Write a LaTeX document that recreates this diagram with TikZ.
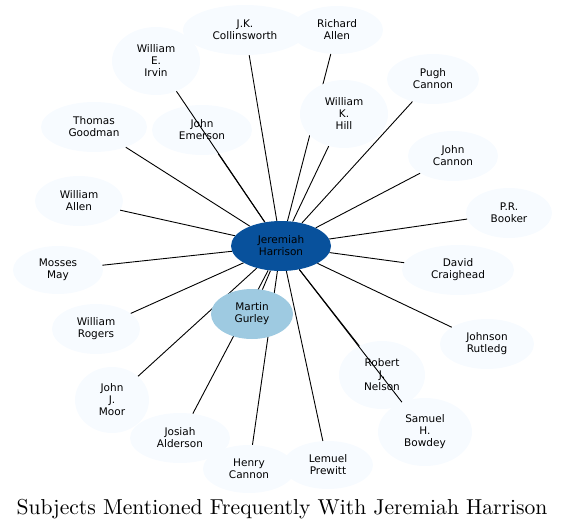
\documentclass[tikz,border=0pt]{standalone}
\usepackage{fontspec}
\newfontfamily\nodefont{DejaVu Sans}
\newfontfamily\titlefont{lmroman10-regular.otf}
\usetikzlibrary{shapes.geometric}
\pgfdeclarelayer{bg}
\pgfdeclarelayer{edgelayer}
\pgfsetlayers{bg,edgelayer,main}
\definecolor{lightnode}{HTML}{F7FBFF}
\definecolor{centernode}{HTML}{08519C}
\definecolor{midnode}{HTML}{9ECAE1}
\tikzset{
  person/.style={ellipse, draw=none, fill=lightnode, inner sep=0pt, align=center,
    font=\nodefont\fontsize{10.5}{12}\selectfont, text=black},
  link/.style={draw=black, line width=0.9pt},
}
\begin{document}
\begin{tikzpicture}[x=1pt,y=-1pt]
\useasboundingbox (0,0) rectangle (565,530);
\begin{pgfonlayer}{bg}
\node[person, minimum width=124pt, minimum height=50pt] (jk) at (245,30) {J.K.\\Collinsworth};
\node[person, minimum width=92pt, minimum height=48pt] (ra) at (337,30) {Richard\\Allen};
\node[person, minimum width=88pt, minimum height=68pt] (wei) at (156,61) {William\\E.\\Irvin};
\node[person, minimum width=106pt, minimum height=50pt] (tg) at (94,127) {Thomas\\Goodman};
\node[person, minimum width=100pt, minimum height=50pt] (je) at (202,130) {John\\Emerson};
\node[person, minimum width=88pt, minimum height=50pt] (wa) at (79,201) {William\\Allen};
\node[person, minimum width=90pt, minimum height=48pt] (mm) at (58,270) {Mosses\\May};
\node[person, minimum width=88pt, minimum height=50pt] (wr) at (96,329) {William\\Rogers};
\node[person, minimum width=74pt, minimum height=66pt] (jjm) at (112,400) {John\\J.\\Moor};
\node[person, minimum width=100pt, minimum height=50pt] (ja) at (180,438) {Josiah\\Alderson};
\node[person, minimum width=92pt, minimum height=48pt] (hc) at (249,469) {Henry\\Cannon};
\node[person, minimum width=90pt, minimum height=48pt] (lp) at (328,465) {Lemuel\\Prewitt};
\node[person, minimum width=94pt, minimum height=68pt] (shb) at (425,432) {Samuel\\H.\\Bowdey};
\node[person, minimum width=86pt, minimum height=68pt] (rjn) at (382,375) {Robert\\J.\\Nelson};
\node[person, minimum width=94pt, minimum height=50pt] (jr) at (487,344) {Johnson\\Rutledg};
\node[person, minimum width=112pt, minimum height=50pt] (dc) at (458,270) {David\\Craighead};
\node[person, minimum width=86pt, minimum height=50pt] (prb) at (509,213) {P.R.\\Booker};
\node[person, minimum width=90pt, minimum height=50pt] (jc) at (453,156) {John\\Cannon};
\node[person, minimum width=92pt, minimum height=50pt] (pc) at (433,79) {Pugh\\Cannon};
\end{pgfonlayer}
\node[person, minimum width=88pt, minimum height=68pt] (wkh) at (344,114) {William\\K.\\Hill};
\node[person, fill=midnode, minimum width=82pt, minimum height=50pt] (mg) at (252,314) {Martin\\Gurley};
\node[person, fill=centernode, minimum width=100pt, minimum height=50pt] (jh) at (281,246) {Jeremiah\\Harrison};
\begin{pgfonlayer}{edgelayer}
\foreach \t in {jk,ra,wei,tg,je,wa,mm,wr,jjm,ja,hc,lp,shb,rjn,jr,dc,prb,jc,pc,wkh,mg}
  \draw[link] (jh) -- (\t);
\end{pgfonlayer}
\node[font=\titlefont\fontsize{21.6}{26}\selectfont, anchor=base] (title) at (282,514) {Subjects Mentioned Frequently With Jeremiah Harrison};
\end{tikzpicture}
\end{document}
